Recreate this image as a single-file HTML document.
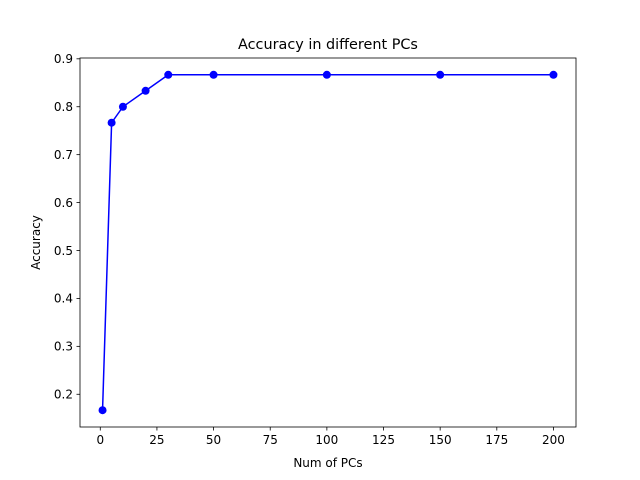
<!DOCTYPE html>
<html><head><meta charset="utf-8">
<style>
html,body{margin:0;padding:0;background:#fff;}
svg{display:block;font-family:"DejaVu Sans","Liberation Sans",sans-serif;}
</style></head>
<body>
<svg id="chart" width="640" height="480" viewBox="0 0 640 480">
<rect x="0" y="0" width="640" height="480" fill="#fff"/>
<text x="328" y="49" font-size="14.4" text-anchor="middle">Accuracy in different PCs</text>
<text x="328" y="467" font-size="12" text-anchor="middle">Num of PCs</text>
<text x="0" y="0" font-size="12" text-anchor="middle" transform="translate(40,242.5) rotate(-90)">Accuracy</text>
<g id="ticks"></g>
<g id="series"></g>
<rect x="80" y="58" width="496" height="369" fill="none" stroke="#000" stroke-width="0.8"/>
</svg>
<script>
const pcs = [1, 5, 10, 20, 30, 50, 100, 150, 200];
const accuracy = [0.1667, 0.7667, 0.8, 0.8333, 0.8667, 0.8667, 0.8667, 0.8667, 0.8667];
const xTicks = [0, 25, 50, 75, 100, 125, 150, 175, 200];
const yTicks = [0.2, 0.3, 0.4, 0.5, 0.6, 0.7, 0.8, 0.9];

const NS = "http://www.w3.org/2000/svg";
const L = 80, R = 576, T = 58, B = 427;
const xmin0 = Math.min(...pcs), xmax0 = Math.max(...pcs);
const ymin0 = Math.min(...accuracy), ymax0 = Math.max(...accuracy);
const xmin = xmin0 - 0.05 * (xmax0 - xmin0), xmax = xmax0 + 0.05 * (xmax0 - xmin0);
const ymin = ymin0 - 0.05 * (ymax0 - ymin0), ymax = ymax0 + 0.05 * (ymax0 - ymin0);
const sx = v => L + (v - xmin) / (xmax - xmin) * (R - L);
const sy = v => B - (v - ymin) / (ymax - ymin) * (B - T);
function mk(tag, attrs, parent) {
  const e = document.createElementNS(NS, tag);
  for (const k in attrs) e.setAttribute(k, attrs[k]);
  parent.appendChild(e);
  return e;
}
const tg = document.getElementById("ticks");
xTicks.forEach(t => {
  const x = sx(t);
  const l = mk("line", {x1: x, x2: x, y1: B, y2: B + 3.5, stroke: "#000", "stroke-width": 0.8}, tg);
  
  
  const tx = mk("text", {x: x, y: B + 17, "font-size": 12, "text-anchor": "middle"}, tg);
  tx.textContent = String(t);
  
  
});
yTicks.forEach(t => {
  const y = sy(t);
  const l = mk("line", {x1: L - 3.5, x2: L, y1: y, y2: y, stroke: "#000", "stroke-width": 0.8}, tg);
  
  
  const tx = mk("text", {x: L - 7, y: y + 4.3, "font-size": 12, "text-anchor": "end"}, tg);
  tx.textContent = t.toFixed(1);
  
  
});
const sg = document.getElementById("series");
const pts = pcs.map((v, i) => sx(v).toFixed(2) + "," + sy(accuracy[i]).toFixed(2)).join(" ");
const pl = mk("polyline", {points: pts, fill: "none", stroke: "#0000ff", "stroke-width": 1.5}, sg);


pcs.forEach((v, i) => {
  const c = mk("circle", {cx: sx(v), cy: sy(accuracy[i]), r: 4, fill: "#0000ff"}, sg);
  
  
});
</script>
</body></html>
